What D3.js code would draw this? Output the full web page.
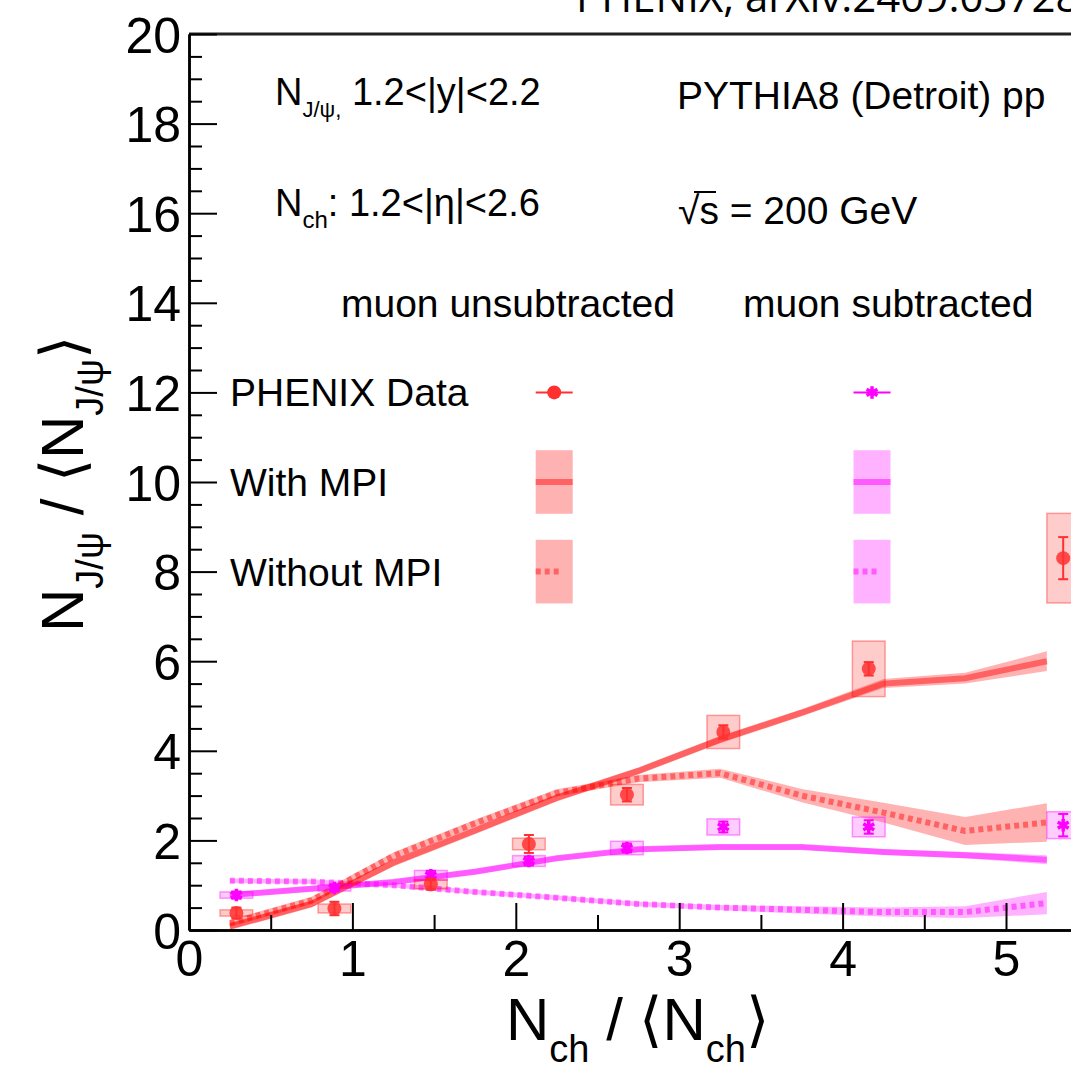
<!DOCTYPE html>
<html>
<head>
<meta charset="utf-8">
<script src="https://cdn.jsdelivr.net/npm/d3@7"></script>
<style>
  html, body { margin: 0; padding: 0; background: #fff; }
  svg { display: block; }
  text { font-family: "Liberation Sans", Arial, Helvetica, sans-serif; fill: #000; }
</style>
</head>
<body>
<svg id="chart" width="1071" height="1070"></svg>
<script>
// ---------------- data ----------------
// PYTHIA8 bin centres (N_ch / <N_ch>)
const simX = [0.25, 0.75, 1.25, 1.75, 2.25, 2.75, 3.25, 3.75, 4.25, 4.75, 5.25];
// muon unsubtracted, with MPI / without MPI
const redMPI     = [0.08, 0.58, 1.50, 2.22, 2.95, 3.55, 4.25, 4.85, 5.50, 5.62, 6.00];
const redMPIErr  = [0.08, 0.08, 0.08, 0.08, 0.08, 0.08, 0.08, 0.08, 0.10, 0.12, 0.22];
const redNoMPI    = [0.15, 0.66, 1.65, 2.38, 3.06, 3.38, 3.50, 3.00, 2.62, 2.21, 2.40];
const redNoMPIErr = [0.08, 0.08, 0.08, 0.08, 0.08, 0.08, 0.10, 0.15, 0.22, 0.31, 0.43];
// muon subtracted, with MPI / without MPI
const magMPI     = [0.78, 0.92, 1.07, 1.30, 1.60, 1.80, 1.85, 1.85, 1.74, 1.67, 1.57];
const magMPIErr  = [0.06, 0.06, 0.06, 0.06, 0.06, 0.06, 0.06, 0.06, 0.06, 0.07, 0.10];
const magNoMPI    = [1.10, 1.08, 1.00, 0.85, 0.72, 0.58, 0.50, 0.45, 0.40, 0.40, 0.60];
const magNoMPIErr = [0.05, 0.05, 0.05, 0.05, 0.05, 0.05, 0.06, 0.08, 0.10, 0.13, 0.25];

// PHENIX data points
const dataX   = [0.29, 0.89, 1.48, 2.08, 2.68, 3.27, 4.16, 5.35];
const dataXErr = 0.1;
const redY    = [0.38, 0.48, 1.02, 1.92, 3.02, 4.42, 5.83, 8.30];
const redStat = [0.12, 0.15, 0.12, 0.20, 0.15, 0.15, 0.15, 0.47];
const redSys  = [0.07, 0.10, 0.10, 0.13, 0.23, 0.37, 0.62, 1.00];
const magY    = [0.78, 0.94, 1.22, 1.54, 1.83, 2.30, 2.30, 2.34];
const magStat = [0.08, 0.08, 0.10, 0.10, 0.10, 0.12, 0.15, 0.25];
const magSys  = [0.07, 0.07, 0.11, 0.12, 0.15, 0.18, 0.22, 0.30];

// axes ticks
const yMajorTicks = [0, 2, 4, 6, 8, 10, 12, 14, 16, 18, 20];
const xMajorTicks = [0, 1, 2, 3, 4, 5];

// legend
const legendRows = [
  {label: "PHENIX Data", y: 12, kind: "data"},
  {label: "With MPI", y: 10, kind: "solid"},
  {label: "Without MPI", y: 8, kind: "dotted"}
];
const legendColX = [2.235, 4.18];

// ---------------- styles ----------------
const RED = {data: "#ff3030", box: "rgba(255,0,0,0.2)", boxStroke: "rgba(255,0,0,0.35)",
             band: "rgba(255,0,0,0.3)", line: "rgba(255,0,0,0.45)"};
const MAG = {data: "#ff00ff", box: "rgba(255,0,255,0.2)", boxStroke: "rgba(255,0,255,0.4)",
             band: "rgba(255,0,255,0.3)", line: "rgba(255,0,255,0.5)"};

const svg = d3.select("#chart");
const x = d3.scaleLinear().domain([0, 6]).range([189, 189 + 163.4 * 6]);
const y = d3.scaleLinear().domain([0, 20]).range([930, 34]);

// ---------------- top note ----------------
svg.append("text").attr("x", 576).attr("y", 12)
  .style("font-family", "'Open Sans', 'DejaVu Sans', sans-serif")
  .style("font-size", "42px")
  .text("PHENIX, arXiv:2409.03728");

// top frame line
svg.append("line").attr("x1", x(0)).attr("x2", 1071).attr("y1", y(20)).attr("y2", y(20))
  .attr("stroke", "#222").attr("stroke-width", 3);

// ---------------- PYTHIA curves ----------------
const plot = svg.append("g");
function drawCurve(vals, errs, col, dotted) {
  const pts = simX.map((xx, i) => ({x: xx, y: vals[i], e: errs[i]}));
  plot.append("path").datum(pts)
    .attr("d", d3.area().x(d => x(d.x)).y0(d => y(d.y - d.e)).y1(d => y(d.y + d.e)))
    .attr("fill", col.band).attr("stroke", "none");
  plot.append("path").datum(pts)
    .attr("d", d3.line().x(d => x(d.x)).y(d => y(d.y)))
    .attr("fill", "none").attr("stroke", col.line).attr("stroke-width", 6)
    .attr("stroke-dasharray", dotted ? "5,4" : null);
}
drawCurve(magNoMPI, magNoMPIErr, MAG, true);
drawCurve(magMPI, magMPIErr, MAG, false);
drawCurve(redNoMPI, redNoMPIErr, RED, true);
drawCurve(redMPI, redMPIErr, RED, false);

// ---------------- data points ----------------
function drawData(vals, stat, sys, col, marker) {
  const pts = dataX.map((xx, i) => ({x: xx, y: vals[i], s: stat[i], sy: sys[i]}));
  const g = plot.append("g");
  g.selectAll("rect").data(pts).join("rect")
    .attr("x", d => x(d.x - dataXErr)).attr("width", d => x(d.x + dataXErr) - x(d.x - dataXErr))
    .attr("y", d => y(d.y + d.sy)).attr("height", d => y(d.y - d.sy) - y(d.y + d.sy))
    .attr("fill", col.box).attr("stroke", col.boxStroke).attr("stroke-width", 1.5);
  g.selectAll("line.err").data(pts).join("line").attr("class", "err")
    .attr("x1", d => x(d.x)).attr("x2", d => x(d.x))
    .attr("y1", d => y(d.y - d.s)).attr("y2", d => y(d.y + d.s))
    .attr("stroke", col.data).attr("stroke-width", 2);
  g.selectAll("line.capT").data(pts).join("line").attr("class", "capT")
    .attr("x1", d => x(d.x) - 5).attr("x2", d => x(d.x) + 5)
    .attr("y1", d => y(d.y + d.s)).attr("y2", d => y(d.y + d.s))
    .attr("stroke", col.data).attr("stroke-width", 2);
  g.selectAll("line.capB").data(pts).join("line").attr("class", "capB")
    .attr("x1", d => x(d.x) - 5).attr("x2", d => x(d.x) + 5)
    .attr("y1", d => y(d.y - d.s)).attr("y2", d => y(d.y - d.s))
    .attr("stroke", col.data).attr("stroke-width", 2);
  if (marker === "circle") {
    g.selectAll("circle").data(pts).join("circle")
      .attr("cx", d => x(d.x)).attr("cy", d => y(d.y)).attr("r", 7)
      .attr("fill", col.data).attr("opacity", 0.85);
  } else {
    g.selectAll("path.m").data(pts).join("path").attr("class", "m")
      .attr("transform", d => `translate(${x(d.x)},${y(d.y)})`)
      .attr("d", d3.symbol(d3.symbolAsterisk, 110)())
      .attr("fill", "none").attr("stroke", col.data).attr("stroke-width", 3.5);
  }
}
drawData(magY, magStat, magSys, MAG, "star");
drawData(redY, redStat, redSys, RED, "circle");

// ---------------- axes ----------------
const FONT = "'Liberation Sans', Arial, Helvetica, sans-serif";
const yMinor = d3.range(0, 20.001, 0.5).filter(v => !yMajorTicks.includes(v));
const xMinor = d3.range(0, 6.001, 0.5).filter(v => !xMajorTicks.includes(v));

const gyMinor = svg.append("g").attr("transform", `translate(${x(0)},0)`)
  .call(d3.axisLeft(y).tickValues(yMinor).tickSize(-13).tickSizeOuter(0).tickFormat(""));
const gy = svg.append("g").attr("transform", `translate(${x(0)},0)`)
  .call(d3.axisLeft(y).tickValues(yMajorTicks).tickSize(-28).tickSizeOuter(0).tickPadding(8)
        .tickFormat(d3.format("d")));
const gxMinor = svg.append("g").attr("transform", `translate(0,${y(0)})`)
  .call(d3.axisBottom(x).tickValues(xMinor).tickSize(-15).tickSizeOuter(0).tickFormat(""));
const gx = svg.append("g").attr("transform", `translate(0,${y(0)})`)
  .call(d3.axisBottom(x).tickValues(xMajorTicks).tickSize(-27).tickSizeOuter(0).tickPadding(10)
        .tickFormat(d3.format("d")));

[gyMinor, gy, gxMinor, gx].forEach(g => {
  g.select(".domain").attr("stroke", "#000").attr("stroke-width", 2.5);
  g.selectAll(".tick line").attr("stroke", "#000").attr("stroke-width", 2);
});
gy.selectAll(".tick text").style("font-family", FONT).style("font-size", "50px").attr("dy", "0.36em");
gx.selectAll(".tick text").style("font-family", FONT).style("font-size", "50px").attr("dy", "0.71em");

// ---------------- axis titles ----------------
const xt = svg.append("text").attr("x", 506).attr("y", 1040)
  .style("font-family", FONT).style("font-size", "60px");
xt.append("tspan").text("N");
xt.append("tspan").attr("dy", 22).style("font-size", "38px").text("ch");
xt.append("tspan").attr("dy", -22).text(" / \u27E8N");
xt.append("tspan").attr("dy", 22).style("font-size", "38px").text("ch");
xt.append("tspan").attr("dy", -22).text("\u27E9");

const yt = svg.append("text").attr("transform", "translate(83,632) rotate(-90)")
  .style("font-family", FONT).style("font-size", "60px");
yt.append("tspan").text("N");
yt.append("tspan").attr("dy", 20).style("font-size", "38px").text("J/\u03C8");
yt.append("tspan").attr("dy", -20).text(" / \u27E8N");
yt.append("tspan").attr("dy", 20).style("font-size", "38px").text("J/\u03C8");
yt.append("tspan").attr("dy", -20).text("\u27E9");

// ---------------- in-plot labels ----------------
const t1 = svg.append("text").attr("x", 275).attr("y", 105).style("font-size", "38px");
t1.append("tspan").text("N");
t1.append("tspan").attr("dy", 12).style("font-size", "22px").text("J/\u03C8,");
t1.append("tspan").attr("dy", -12).text(" 1.2<|y|<2.2");

const t2 = svg.append("text").attr("x", 275).attr("y", 216).style("font-size", "38px");
t2.append("tspan").text("N");
t2.append("tspan").attr("dy", 12).style("font-size", "24px").text("ch");
t2.append("tspan").attr("dy", -12).text(": 1.2<|\u03B7|<2.6");

svg.append("text").attr("x", 677).attr("y", 109).style("font-size", "39px").text("PYTHIA8 (Detroit) pp");
svg.append("text").attr("x", 678).attr("y", 224).style("font-size", "39px").text("\u221As = 200 GeV");
svg.append("line").attr("x1", 694).attr("x2", 716).attr("y1", 192).attr("y2", 192)
  .attr("stroke", "#000").attr("stroke-width", 2);

svg.append("text").attr("x", 341).attr("y", 317).style("font-size", "39px").text("muon unsubtracted");
svg.append("text").attr("x", 743).attr("y", 317).style("font-size", "39px").text("muon subtracted");

// ---------------- legend ----------------
const leg = svg.append("g");
legendRows.forEach(r => {
  leg.append("text").attr("x", 230).attr("y", y(r.y) + 14).style("font-size", "39px").text(r.label);
  [RED, MAG].forEach((col, j) => {
    const cx = x(legendColX[j]);
    const hw = 18.5;
    if (r.kind === "data") {
      leg.append("line").attr("x1", cx - hw).attr("x2", cx + hw).attr("y1", y(r.y)).attr("y2", y(r.y))
        .attr("stroke", col.data).attr("stroke-width", 2);
      if (j === 0) {
        leg.append("circle").attr("cx", cx).attr("cy", y(r.y)).attr("r", 7).attr("fill", col.data);
      } else {
        leg.append("path").attr("transform", `translate(${cx},${y(r.y)})`)
          .attr("d", d3.symbol(d3.symbolAsterisk, 110)())
          .attr("fill", "none").attr("stroke", col.data).attr("stroke-width", 3.5);
      }
    } else {
      leg.append("rect").attr("x", cx - hw).attr("width", 2 * hw)
        .attr("y", y(r.y + 0.71)).attr("height", y(r.y - 0.71) - y(r.y + 0.71))
        .attr("fill", col.band);
      leg.append("line").attr("x1", cx - hw).attr("x2", r.kind === "dotted" ? cx + 6 : cx + hw)
        .attr("y1", y(r.y)).attr("y2", y(r.y))
        .attr("stroke", col.line).attr("stroke-width", 6)
        .attr("stroke-dasharray", r.kind === "dotted" ? "5,4" : null);
    }
  });
});
</script>
</body>
</html>
